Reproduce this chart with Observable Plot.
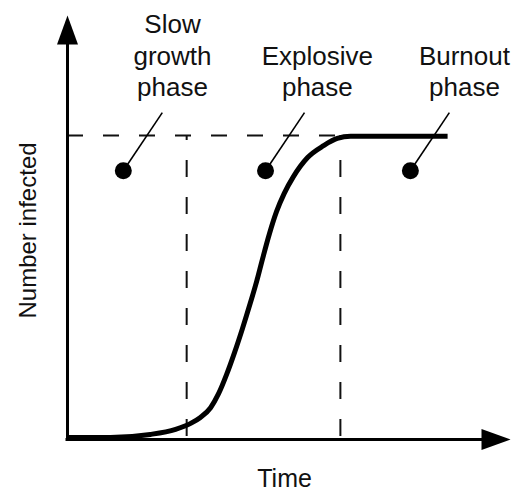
<!DOCTYPE html>
<html>
<head>
<meta charset="utf-8">
<script src="https://cdn.jsdelivr.net/npm/d3@7"></script>
<script src="https://cdn.jsdelivr.net/npm/@observablehq/plot@0.6"></script>
<style>
  html, body { margin: 0; padding: 0; background: #ffffff; }
  #chart { width: 524px; height: 492px; }
</style>
</head>
<body>
<div id="chart"></div>
<script>
// Epidemic curve (arbitrary units: time 0-100, number infected 0-100)
const time     = [0, 9.7, 18.7, 24.4, 27.8, 30.0, 32.3, 34.1, 35.9, 37.7, 39.5, 41.3, 42.7, 44.0, 45.6, 47.2, 48.9, 51.0, 54.2, 57.8, 60.9, 63.9, 85.8];
const infected = [0.5, 0.5, 1.2, 2.4, 3.8, 5.2, 7.5, 10.8, 15.3, 20.5, 26.2, 32.3, 37.3, 42.5, 48.6, 53.8, 58.0, 62.0, 66.5, 69.3, 71.0, 71.5, 71.5];

// Phases
const phaseLabels = ["Slow\ngrowth\nphase", "Explosive\nphase", "Burnout\nphase"];
const phaseLabelX = [23.7, 56.4, 89.6];
const phaseLabelY = [80.9, 80.9, 80.9];
const phaseDotX   = [12.6, 44.7, 77.4];
const phaseDotY   = [63.4, 63.4, 63.4];
const leaderEndX  = [21.4, 53.5, 86.2];
const leaderEndY  = [77.1, 77.1, 77.1];
const phaseBounds = [26.9, 61.6];
const plateau = 71.7;

const axisLabels = { x: "Time", y: "Number infected" };

const curve = time.map((t, i) => ({ t, n: infected[i] }));
const phases = phaseLabels.map((label, i) => ({
  label, lx: phaseLabelX[i], ly: phaseLabelY[i],
  dx: phaseDotX[i], dy: phaseDotY[i],
  ex: leaderEndX[i], ey: leaderEndY[i]
}));

// Elongated filled arrowhead, tip at the origin, pointing up
const arrowHead = {
  draw(context) {
    context.moveTo(0, 0);
    context.lineTo(-10.5, 29);
    context.lineTo(10.5, 29);
    context.closePath();
  }
};

const chart = Plot.plot({
  width: 524,
  height: 492,
  marginLeft: 67,
  marginRight: 14,
  marginTop: 15,
  marginBottom: 53,
  x: { domain: [0, 100], axis: null },
  y: { domain: [0, 100], axis: null },
  style: { fontFamily: "'Liberation Sans', Arial, Helvetica, sans-serif", color: "#000", background: "transparent" },
  marks: [
    // dashed guides
    Plot.ruleY([plateau], { x1: 0, x2: phaseBounds[1], stroke: "#111", strokeWidth: 2, strokeDasharray: "16,20" }),
    Plot.ruleX(phaseBounds, { y1: 0, y2: plateau, stroke: "#111", strokeWidth: 2, strokeDasharray: "17,20", strokeDashoffset: -3 }),
    // axes
    Plot.ruleX([0], { y1: 0, y2: 95, stroke: "#000", strokeWidth: 3, strokeLinecap: "square" }),
    Plot.ruleY([0], { x1: 0, x2: 95, stroke: "#000", strokeWidth: 3, strokeLinecap: "square" }),
    Plot.dot([{ x: 0, y: 100, r: 0 }], { x: "x", y: "y", symbol: arrowHead, r: 5, fill: "#000", stroke: null }),
    Plot.dot([{ x: 100, y: 0, r: 90 }], { x: "x", y: "y", symbol: arrowHead, r: 5, rotate: "r", fill: "#000", stroke: null }),
    // epidemic curve
    Plot.line(curve, { x: "t", y: "n", curve: "monotone-x", stroke: "#000", strokeWidth: 5, strokeLinecap: "butt", strokeLinejoin: "round" }),
    // leaders and dots
    Plot.link(phases, { x1: "dx", y1: "dy", x2: "ex", y2: "ey", stroke: "#000", strokeWidth: 1.6 }),
    Plot.dot(phases, { x: "dx", y: "dy", r: 8.5, fill: "#000", stroke: null }),
    // phase labels
    Plot.text(phases, { x: "lx", y: "ly", text: "label", lineAnchor: "bottom", lineHeight: 1.23, fontSize: 26, fill: "#111" }),
    // axis labels
    Plot.text([axisLabels.x], { x: 49, y: -11.1, text: d => d, lineAnchor: "bottom", fontSize: 25, fill: "#111" }),
    Plot.text([axisLabels.y], { x: -7.2, y: 49.3, text: d => d, rotate: -90, lineAnchor: "bottom", fontSize: 24, fill: "#111" })
  ]
});

document.getElementById("chart").appendChild(chart);
</script>
</body>
</html>
